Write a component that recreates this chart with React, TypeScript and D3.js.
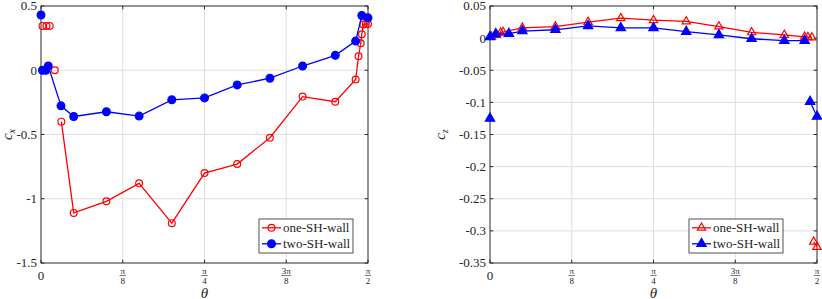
import { useEffect, useRef } from 'react'
import * as d3 from 'd3'

const WIDTH = 822
const HEIGHT = 299

// theta is kept in degrees, axis runs 0 .. pi/2
const THETA_TICKS = [0, 22.5, 45, 67.5, 90]
const THETA_TICK_LABELS: (string[] | null)[] = [null, ['π', '8'], ['π', '4'], ['3π', '8'], ['π', '2']]

// left panel (c_x)
const CX_TICKS = [0.5, 0, -0.5, -1, -1.5]
const CX_TICK_LABELS = ['0.5', '0', '-0.5', '-1', '-1.5']

const ONE_CX_THETA = [5.6, 9, 18, 27, 36, 45, 54, 63, 72, 81, 86.6, 87.4, 88.0, 88.3, 88.7, 89.4, 90]
const ONE_CX = [-0.4, -1.11, -1.02, -0.88, -1.19, -0.8, -0.73, -0.525, -0.205, -0.245, -0.072, 0.108, 0.21, 0.28, 0.357, 0.36, 0.36]
const ONE_CX_LONE_THETA = [0.4, 1.5, 2.4, 3.8]
const ONE_CX_LONE = [0.345, 0.345, 0.345, 0]

const TWO_CX_THETA = [0.4, 1.3, 2.0, 5.5, 9, 18, 27, 36, 45, 54, 63, 72, 81, 86.6, 88.3, 90]
const TWO_CX = [0, 0, 0.033, -0.277, -0.36, -0.323, -0.357, -0.23, -0.215, -0.114, -0.062, 0.033, 0.116, 0.227, 0.426, 0.408]
const TWO_CX_LONE_THETA = [0]
const TWO_CX_LONE = [0.43]

// right panel (c_z)
const CZ_TICKS = [0.05, 0, -0.05, -0.1, -0.15, -0.2, -0.25, -0.3, -0.35]
const CZ_TICK_LABELS = ['0.05', '0', '-0.05', '-0.1', '-0.15', '-0.2', '-0.25', '-0.3', '-0.35']

const ONE_CZ_THETA = [0.4, 1.6, 2.9, 3.6, 8.9, 18, 27, 36, 45, 54, 63, 72, 81, 86.6, 87.5, 88.6]
const ONE_CZ = [0.002, 0.005, 0.0085, 0.0095, 0.016, 0.018, 0.025, 0.031, 0.028, 0.026, 0.018, 0.009, 0.005, 0.002, 0.0015, 0.001]
const ONE_CZ_END_THETA = [89.1, 90]
const ONE_CZ_END = [-0.317, -0.325]

const TWO_CZ_THETA = [0, 1.6, 5.2, 8.9, 18, 27, 36, 45, 54, 63, 72, 81, 86.6]
const TWO_CZ = [0.002, 0.0065, 0.007, 0.011, 0.013, 0.019, 0.016, 0.016, 0.01, 0.005, -0.001, -0.004, -0.004]
const TWO_CZ_END_THETA = [88.1, 90]
const TWO_CZ_END = [-0.099, -0.122]
const TWO_CZ_LONE_THETA = [0]
const TWO_CZ_LONE = [-0.125]

const LEGEND_NAMES = ['one-SH-wall', 'two-SH-wall']

const RED = '#ff0000'
const BLUE = '#0000ff'
const GRID = '#dfdfdf'
const AXIS = '#262626'
const FONT = "'Times New Roman', 'Liberation Serif', 'DejaVu Serif', serif"

const zip = (xs: number[], ys: number[]) => xs.map((x, i) => [x, ys[i]] as [number, number])

type Series = {
  color: string
  marker: 'circle' | 'triangle'
  filled: boolean
  segments: [number, number][][]
}

type Panel = {
  x0: number
  x1: number
  y0: number
  y1: number
  yDomain: [number, number]
  yTicks: number[]
  yTickLabels: string[]
  ySub: string
  yLabelX: number
  legendX: number
  legendY: number
  series: Series[]
}

const PANELS: Panel[] = [
  {
    x0: 41, x1: 368, y0: 6, y1: 263,
    yDomain: [-1.5, 0.5],
    yTicks: CX_TICKS, yTickLabels: CX_TICK_LABELS,
    ySub: 'x', yLabelX: 12,
    legendX: 259, legendY: 219,
    series: [
      { color: RED, marker: 'circle', filled: false,
        segments: [zip(ONE_CX_THETA, ONE_CX), ...zip(ONE_CX_LONE_THETA, ONE_CX_LONE).map(p => [p])] },
      { color: BLUE, marker: 'circle', filled: true,
        segments: [zip(TWO_CX_THETA, TWO_CX), ...zip(TWO_CX_LONE_THETA, TWO_CX_LONE).map(p => [p])] }
    ]
  },
  {
    x0: 490, x1: 817, y0: 6, y1: 263,
    yDomain: [-0.35, 0.05],
    yTicks: CZ_TICKS, yTickLabels: CZ_TICK_LABELS,
    ySub: 'z', yLabelX: 445,
    legendX: 689, legendY: 219,
    series: [
      { color: RED, marker: 'triangle', filled: false,
        segments: [zip(ONE_CZ_THETA, ONE_CZ), zip(ONE_CZ_END_THETA, ONE_CZ_END)] },
      { color: BLUE, marker: 'triangle', filled: true,
        segments: [zip(TWO_CZ_THETA, TWO_CZ), zip(TWO_CZ_END_THETA, TWO_CZ_END), ...zip(TWO_CZ_LONE_THETA, TWO_CZ_LONE).map(p => [p])] }
    ]
  }
]

function drawMarker(g: d3.Selection<SVGGElement, unknown, null, undefined>, s: Series, x: number, y: number) {
  if (s.marker === 'circle') {
    g.append('circle')
      .attr('cx', x).attr('cy', y)
      .attr('r', s.filled ? 3.9 : 3.4)
      .attr('fill', s.filled ? s.color : 'none')
      .attr('stroke', s.color)
      .attr('stroke-width', 1.2)
  } else {
    g.append('path')
      .attr('d', d3.symbol().type(d3.symbolTriangle).size(s.filled ? 38 : 30)())
      .attr('transform', `translate(${x},${y})`)
      .attr('fill', s.filled ? s.color : 'none')
      .attr('stroke', s.color)
      .attr('stroke-width', 1.2)
  }
}

function App() {
  const svgRef = useRef<SVGSVGElement>(null)

  useEffect(() => {
    if (!svgRef.current) return
    document.body.style.margin = '0'

    const svg = d3.select(svgRef.current)
      .attr('width', WIDTH)
      .attr('height', HEIGHT)

    svg.selectAll('*').remove()

    const txt = (g: d3.Selection<SVGGElement, unknown, null, undefined>, size: number) =>
      g.append('text')
        .style('font-family', FONT)
        .style('font-size', `${size}px`)
        .attr('fill', AXIS)

    PANELS.forEach(p => {
      const x = d3.scaleLinear().domain([0, 90]).range([p.x0, p.x1])
      const y = d3.scaleLinear().domain(p.yDomain).range([p.y1, p.y0])
      const g = svg.append('g')

      // white plot background + grid
      g.append('rect')
        .attr('x', p.x0).attr('y', p.y0)
        .attr('width', p.x1 - p.x0).attr('height', p.y1 - p.y0)
        .attr('fill', '#fff')

      g.selectAll('.gx')
        .data(THETA_TICKS)
        .enter()
        .append('line')
        .attr('x1', d => x(d)).attr('x2', d => x(d))
        .attr('y1', p.y0).attr('y2', p.y1)
        .attr('stroke', GRID).attr('stroke-width', 1)

      g.selectAll('.gy')
        .data(p.yTicks)
        .enter()
        .append('line')
        .attr('x1', p.x0).attr('x2', p.x1)
        .attr('y1', d => y(d)).attr('y2', d => y(d))
        .attr('stroke', GRID).attr('stroke-width', 1)

      // box with inward ticks on all four sides
      g.append('rect')
        .attr('x', p.x0).attr('y', p.y0)
        .attr('width', p.x1 - p.x0).attr('height', p.y1 - p.y0)
        .attr('fill', 'none')
        .attr('stroke', AXIS).attr('stroke-width', 0.9)

      THETA_TICKS.forEach(t => {
        g.append('line').attr('x1', x(t)).attr('x2', x(t)).attr('y1', p.y1).attr('y2', p.y1 - 3.3).attr('stroke', AXIS)
        g.append('line').attr('x1', x(t)).attr('x2', x(t)).attr('y1', p.y0).attr('y2', p.y0 + 3.3).attr('stroke', AXIS)
      })
      p.yTicks.forEach(t => {
        g.append('line').attr('x1', p.x0).attr('x2', p.x0 + 3.3).attr('y1', y(t)).attr('y2', y(t)).attr('stroke', AXIS)
        g.append('line').attr('x1', p.x1).attr('x2', p.x1 - 3.3).attr('y1', y(t)).attr('y2', y(t)).attr('stroke', AXIS)
      })

      // y tick labels
      p.yTicks.forEach((t, i) => {
        txt(g, 13)
          .attr('x', p.x0 - 4)
          .attr('y', y(t))
          .attr('dy', '0.34em')
          .attr('text-anchor', 'end')
          .text(p.yTickLabels[i])
      })

      // x tick labels (fractions of pi)
      THETA_TICKS.forEach((t, i) => {
        const lab = THETA_TICK_LABELS[i]
        const cx = x(t)
        if (!lab) {
          txt(g, 13)
            .attr('x', cx).attr('y', 280)
            .attr('text-anchor', 'middle')
            .text('0')
          return
        }
        const barW = lab[0].length > 1 ? 10 : 6.5
        txt(g, 9)
          .attr('x', cx).attr('y', 273.8)
          .attr('text-anchor', 'middle')
          .text(lab[0])
        g.append('line')
          .attr('x1', cx - barW / 2).attr('x2', cx + barW / 2)
          .attr('y1', 275.5).attr('y2', 275.5)
          .attr('stroke', AXIS).attr('stroke-width', 0.6)
        txt(g, 9)
          .attr('x', cx).attr('y', 284.3)
          .attr('text-anchor', 'middle')
          .text(lab[1])
      })

      // axis labels
      txt(g, 15)
        .attr('x', (p.x0 + p.x1) / 2).attr('y', 297.5)
        .attr('text-anchor', 'middle')
        .style('font-style', 'italic')
        .text('θ')

      const yl = txt(g, 15)
        .attr('transform', `translate(${p.yLabelX},${(p.y0 + p.y1) / 2}) rotate(-90)`)
        .attr('text-anchor', 'middle')
        .style('font-style', 'italic')
      yl.append('tspan').text('c')
      yl.append('tspan').style('font-size', '10px').attr('dy', 3).text(p.ySub)

      // series
      const line = d3.line<[number, number]>()
        .x(d => x(d[0]))
        .y(d => y(d[1]))

      p.series.forEach(s => {
        const sg = g.append('g')
        s.segments.forEach(seg => {
          if (seg.length > 1) {
            sg.append('path')
              .attr('d', line(seg))
              .attr('fill', 'none')
              .attr('stroke', s.color)
              .attr('stroke-width', 1.3)
          }
          seg.forEach(d => drawMarker(sg, s, x(d[0]), y(d[1])))
        })
      })

      // legend
      const lg = g.append('g').attr('transform', `translate(${p.legendX},${p.legendY})`)
      lg.append('rect')
        .attr('width', 94).attr('height', 34)
        .attr('fill', '#fff')
        .attr('stroke', AXIS).attr('stroke-width', 0.8)
      p.series.forEach((s, i) => {
        const ry = 8.8 + i * 16
        lg.append('line')
          .attr('x1', 3).attr('x2', 22)
          .attr('y1', ry).attr('y2', ry)
          .attr('stroke', s.color).attr('stroke-width', 1.3)
        drawMarker(lg, s, 12.5, ry)
        txt(lg, 13)
          .attr('x', 24).attr('y', ry)
          .attr('dy', '0.34em')
          .text(LEGEND_NAMES[i])
      })
    })
  }, [])

  return (
    <div>
      <svg ref={svgRef}></svg>
    </div>
  )
}

export default App
